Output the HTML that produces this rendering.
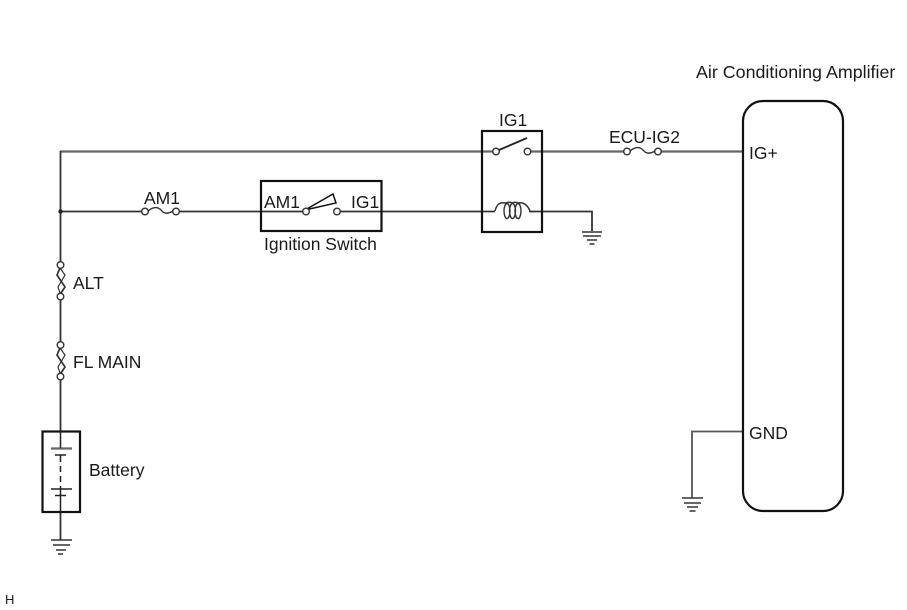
<!DOCTYPE html>
<html><head><meta charset="utf-8"><style>
html,body{margin:0;padding:0;background:#fff}
svg{display:block}
text{font-family:"Liberation Sans",sans-serif;font-size:17.5px;fill:#1a1a1a}
</style></head><body>
<svg width="907" height="610" viewBox="0 0 907 610" xmlns="http://www.w3.org/2000/svg">
<g fill="none" stroke="#111" stroke-width="2">
<!-- wires -->
<g stroke="#666" stroke-width="2.200">
<path d="M60 151.500H493M531 151.500H624M661 151.500H743"/>
</g>
<g stroke="#333" stroke-width="1.800">
<path d="M60.500 151V263M60.500 299V343M60.500 379V431"/>
<path d="M60.500 211.500H142M179 211.500H261"/>
<path d="M261 211.500H303M340 211.500H495M529 211.500H592V231"/>
<path d="M60.500 512V540"/>
</g>
<path d="M743 431.500H692V498" stroke="#555" stroke-width="1.800"/>
<circle cx="60.500" cy="211.500" r="2.200" fill="#222" stroke="none"/>
<!-- relay -->
<rect x="482" y="131" width="60" height="101" stroke-width="2.200"/>
<circle cx="496" cy="151.500" r="3.300" fill="#fff" stroke="#333" stroke-width="1.400"/>
<circle cx="527.500" cy="151.500" r="3.300" fill="#fff" stroke="#333" stroke-width="1.400"/>
<path d="M499 150L527 138" stroke-width="1.800" stroke="#222"/>
<path d="M495 211C497 203 501 202 506 203C509 202 511 202 512 203C514 202 516 202 518 203C523 202 527 204 530 211" stroke-width="1.500" stroke="#333"/>
<ellipse cx="507" cy="211" rx="3" ry="7.500" stroke-width="1.400" stroke="#333"/>
<ellipse cx="512.500" cy="211" rx="3" ry="7.500" stroke-width="1.400" stroke="#333"/>
<ellipse cx="518" cy="211" rx="3" ry="7.500" stroke-width="1.400" stroke="#333"/>
<!-- ignition -->
<rect x="261" y="181" width="120.500" height="50" stroke-width="2.200"/>
<path d="M305 210L333 194L336 203Z" fill="#fff" stroke-width="1.500"/>
<circle cx="306" cy="211.500" r="3.300" fill="#fff" stroke="#333" stroke-width="1.400"/>
<circle cx="337" cy="211.500" r="3.300" fill="#fff" stroke="#333" stroke-width="1.400"/>
<!-- fuses horizontal -->
<g stroke="#333" stroke-width="1.400">
<circle cx="145" cy="211.500" r="3.300" fill="#fff"/>
<circle cx="176" cy="211.500" r="3.300" fill="#fff"/>
<path d="M148 211C154 206 158 207 161 210C164 214 168 214 173 211"/>
<circle cx="627" cy="151.500" r="3.300" fill="#fff"/>
<circle cx="658" cy="151.500" r="3.300" fill="#fff"/>
<path d="M630 151C636 146 640 147 643 150C646 154 650 154 655 151"/>
<!-- fuses vertical -->
<circle cx="60.500" cy="265" r="3.300" fill="#fff"/>
<circle cx="60.500" cy="296.500" r="3.300" fill="#fff"/>
<path d="M60 268L57 275L65 287L61 293" stroke-width="1.700"/>
<path d="M60 268L65 275L58 287L60 293" stroke-width="1.200"/>
<circle cx="60.500" cy="345" r="3.300" fill="#fff"/>
<circle cx="60.500" cy="376.500" r="3.300" fill="#fff"/>
<path d="M60 348L57 355L65 367L61 373" stroke-width="1.700"/>
<path d="M60 348L65 355L58 367L60 373" stroke-width="1.200"/>
</g>
<!-- amplifier -->
<rect x="743" y="101" width="100" height="410" rx="20" ry="20" stroke-width="2.200"/>
<!-- battery -->
<rect x="42.500" y="431.500" width="37.500" height="80.500" stroke-width="2.200"/>
<g stroke="#222" stroke-width="1.500">
<path d="M51 448.500H72" stroke="#666" stroke-width="2.200"/>
<path d="M60.500 431V448M55 455H66M60.500 455V462M60.500 466V472M60.500 476V482M60.500 486V489"/>
<path d="M51 489H72M55 495.500H66M60.500 489V495M60.500 495.500V512"/>
</g>
<!-- grounds -->
<g stroke-width="1.500" stroke="#333">
<path d="M582 232H602M583 236H601M587 240H597M589.500 244H594.500"/>
<path d="M682 498H703M684 503H701M687 507H698M689.500 511H695.500"/>
<path d="M51 540H72M53 545H70M56 550H66M58 554H63"/>
</g>
</g>
<text x="499" y="126">IG1</text>
<text x="609" y="143">ECU-IG2</text>
<text x="696" y="78" style="font-size:17.850px">Air Conditioning Amplifier</text>
<text x="749" y="159">IG+</text>
<text x="749" y="439">GND</text>
<text x="144" y="204">AM1</text>
<text x="264" y="208">AM1</text>
<text x="351" y="208">IG1</text>
<text x="264" y="250">Ignition Switch</text>
<text x="73" y="289">ALT</text>
<text x="73" y="368">FL MAIN</text>
<text x="89" y="476">Battery</text>
<text x="5" y="604" style="font-size:13px">H</text>
</svg>
</body></html>
